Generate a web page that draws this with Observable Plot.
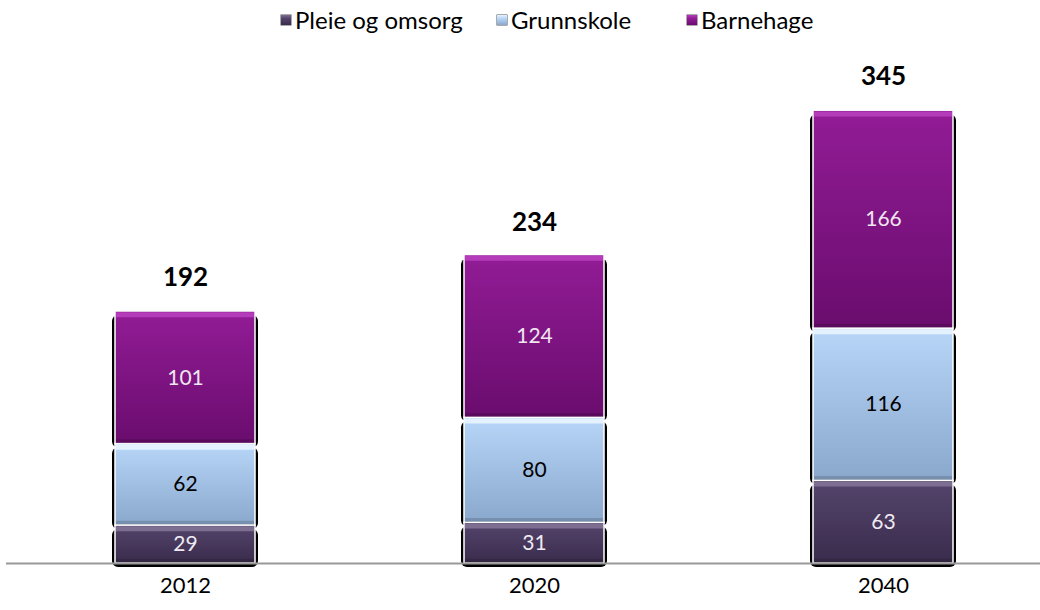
<!DOCTYPE html>
<html>
<head>
<meta charset="utf-8">
<script src="https://cdn.jsdelivr.net/npm/d3@7"></script>
<script src="https://cdn.jsdelivr.net/npm/@observablehq/plot@0.6"></script>
<style>
  html, body { margin: 0; padding: 0; background: #fff; }
  body { width: 1040px; height: 610px; overflow: hidden; font-family: Lato, "Open Sans", sans-serif; }
  #legend { height: 40px; position: relative; font-size: 24px; color: #000; }
  .item { position: absolute; top: 5px; display: flex; align-items: center; line-height: 30px; }
  .sw { width: 10px; height: 10px; margin-right: 4px; box-shadow: 0 0 0 0.5px #555; }
</style>
</head>
<body>
<div id="legend"></div>
<div id="chart"></div>
<script>
const years = ["2012", "2020", "2040"];
const series = ["Pleie og omsorg", "Grunnskole", "Barnehage"];
const pleie = [29, 31, 63];
const grunnskole = [62, 80, 116];
const barnehage = [101, 124, 166];
const totals = [192, 234, 345];

const seriesValues = [pleie, grunnskole, barnehage];
const data = [];
series.forEach((s, i) => years.forEach((y, j) => data.push({year: y, series: s, value: seriesValues[i][j]})));
const totalData = years.map((y, j) => ({year: y, total: totals[j]}));

const grads = {
  "Pleie og omsorg": ["#54446c", "#3a2c4c"],
  "Grunnskole": ["#b8d6f8", "#8aa8cc"],
  "Barnehage": ["#921c96", "#6a0c6e"]
};
const highlight = {"Pleie og omsorg": "#7e6e92", "Grunnskole": "#e4f2ff", "Barnehage": "#b43cba"};
const ids = {"Pleie og omsorg": "gP", "Grunnskole": "gG", "Barnehage": "gB"};
const labelColor = {"Pleie og omsorg": "#eeeaf2", "Grunnskole": "#000", "Barnehage": "#f0e6f0"};

// Legend
const legend = document.getElementById("legend");
const legendX = [281, 497, 687];
series.forEach((s, i) => {
  const it = document.createElement("div");
  it.className = "item";
  it.style.left = legendX[i] + "px";
  const sw = document.createElement("span");
  sw.className = "sw";
  const g = grads[s];
  sw.style.background = `linear-gradient(${highlight[s]}, ${g[0]} 35%, ${g[1]})`;
  it.appendChild(sw);
  const t = document.createElement("span");
  t.textContent = s;
  it.appendChild(t);
  legend.appendChild(it);
});

const base = 523;
const k = 1.3125;
const stackOpts = {x: "year", y: "value", z: "series"};

const plot = Plot.plot({
  width: 1040,
  height: 570,
  marginLeft: 6,
  marginRight: 0,
  marginTop: 0,
  marginBottom: 47,
  style: {fontFamily: "Lato, 'Open Sans', sans-serif", overflow: "visible"},
  x: {domain: years, range: [10.5, 1057.5], paddingInner: 0.6, paddingOuter: 0.3, align: 0.5, label: null},
  y: {domain: [0, 345], range: [base, base - 345 * k], axis: null},
  color: {domain: series, range: series.map(s => `url(#${ids[s]})`)},
  marks: [
    Plot.barY(data, Plot.stackY({...stackOpts, fill: "#000", insetLeft: -3, insetRight: -3, rx: 6, dy: 4})),
    Plot.barY(data, Plot.stackY({...stackOpts, fill: "series", stroke: "#fff", strokeWidth: 1.5})),
    Plot.tickY(data, Plot.stackY2({...stackOpts, stroke: "#fff", className: "hl", strokeWidth: 5, dy: 3.3, insetLeft: 1, insetRight: 1})),
    Plot.tickY(data, Plot.stackY1({...stackOpts, stroke: "#000", strokeOpacity: 0.15, strokeWidth: 4, dy: -2.8, insetLeft: 1, insetRight: 1})),
    Plot.text(data, Plot.stackY({...stackOpts, text: d => String(d.value), fill: d => labelColor[d.series], fontSize: 21})),
    Plot.text(totalData, {x: "year", y: "total", text: d => String(d.total), dy: -34, fontSize: 26, fontWeight: "bold", fill: "#000"}),
    Plot.ruleY([0], {stroke: "#999", strokeWidth: 2}),
    Plot.axisX({tickSize: 0, tickPadding: 14, fontSize: 22, label: null, color: "#000"})
  ]
});

// gradient defs
const svg = d3.select(plot);
const defs = svg.insert("defs", ":first-child");
series.forEach(s => {
  const g = grads[s];
  const lg = defs.append("linearGradient").attr("id", ids[s]).attr("x1", 0).attr("y1", 0).attr("x2", 0).attr("y2", 1);
  lg.append("stop").attr("offset", "0%").attr("stop-color", g[0]);
  lg.append("stop").attr("offset", "100%").attr("stop-color", g[1]);
});
// colour the top highlight strips per series
svg.selectAll("g.hl line").each(function(i) {
  d3.select(this).attr("stroke", highlight[data[i].series]);
});
document.getElementById("chart").appendChild(plot);
</script>
</body>
</html>
